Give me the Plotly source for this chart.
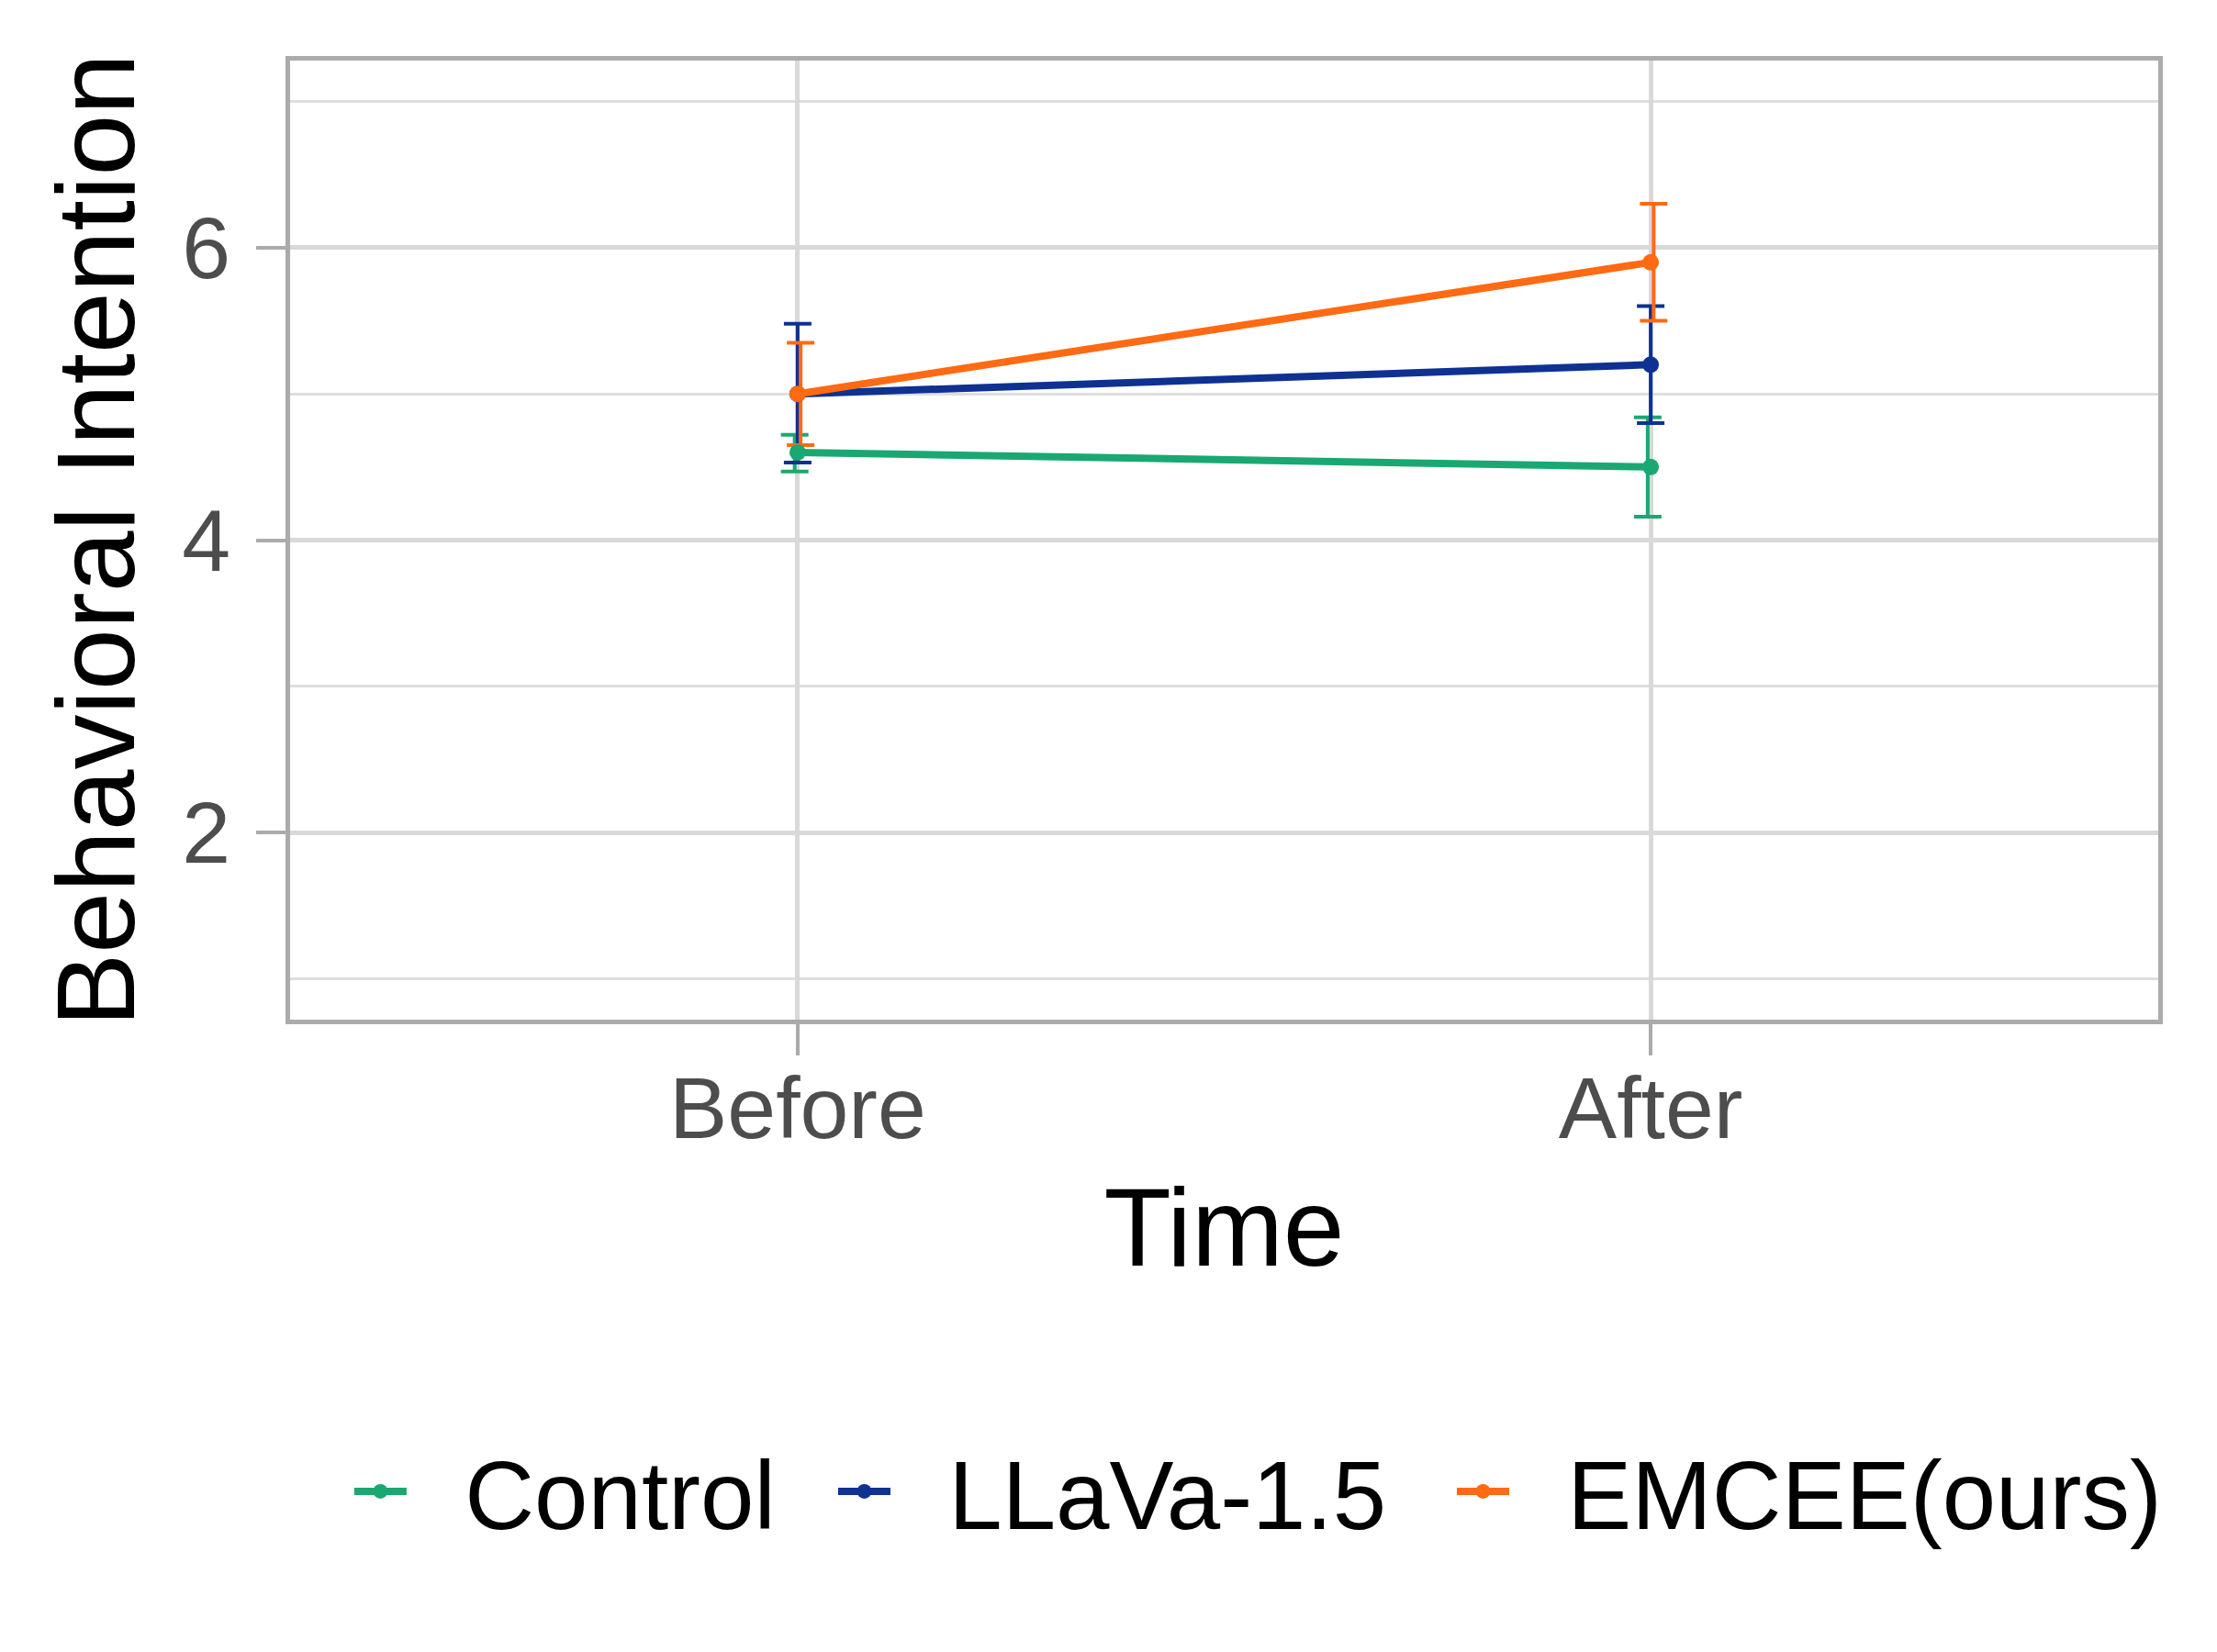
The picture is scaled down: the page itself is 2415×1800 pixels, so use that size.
import plotly.graph_objects as go

# ---- data ----
time_labels = ["Before", "After"]
time_pos = [1, 2]
groups = ["Control", "LLaVa-1.5", "EMCEE(ours)"]
control_mean = [4.60, 4.50]
control_lo = [4.47, 4.16]
control_hi = [4.72, 4.84]
llava_mean = [5.00, 5.20]
llava_lo = [4.53, 4.80]
llava_hi = [5.48, 5.60]
emcee_mean = [5.00, 5.90]
emcee_lo = [4.65, 5.50]
emcee_hi = [5.35, 6.30]
y_ticks = [2, 4, 6]

colors = ["#1AA872", "#0E3192", "#FF6A13"]
dodge = [-0.0035, 0.0, 0.0035]
legend_ids = ["legend", "legend2", "legend3"]
legend_x = [0.0319, 0.2909, 0.6221]

series = [
    (groups[0], control_mean, control_lo, control_hi),
    (groups[1], llava_mean, llava_lo, llava_hi),
    (groups[2], emcee_mean, emcee_lo, emcee_hi),
]

FONT = "Liberation Sans, Arial, sans-serif"
fig = go.Figure()

# error bars (slightly dodged)
for (name, m, lo, hi), c, d in zip(series, colors, dodge):
    fig.add_trace(go.Scatter(
        x=[p + d for p in time_pos], y=m, mode="markers",
        marker=dict(size=0.1, color=c, opacity=0),
        error_y=dict(type="data", symmetric=False,
                     array=[h - v for h, v in zip(hi, m)],
                     arrayminus=[v - l for v, l in zip(m, lo)],
                     color=c, thickness=4, width=15),
        showlegend=False, hoverinfo="skip"))

# lines + points
for (name, m, lo, hi), c, lg in zip(series, colors, legend_ids):
    fig.add_trace(go.Scatter(
        x=time_pos, y=m, mode="lines+markers", name="\u00a0\u00a0" + name,
        legend=lg,
        line=dict(color=c, width=8),
        marker=dict(color=c, size=18)))

leg_common = dict(orientation="h", xanchor="left", y=-0.492, yanchor="middle",
                  font=dict(size=105, family=FONT, color="black"),
                  itemwidth=57, bgcolor="rgba(0,0,0,0)")

fig.update_layout(
    width=2415, height=1800,
    paper_bgcolor="white", plot_bgcolor="white",
    margin=dict(l=308, r=72, t=58, b=697, autoexpand=False),
    font=dict(family=FONT, color="black"),
    showlegend=True,
    legend=dict(x=legend_x[0], **leg_common),
    legend2=dict(x=legend_x[1], **leg_common),
    legend3=dict(x=legend_x[2], **leg_common),
)

fig.update_xaxes(
    range=[0.405, 2.595], tickvals=time_pos, ticktext=time_labels,
    showgrid=True, gridcolor="#D9D9D9", gridwidth=4.5,
    zeroline=False, showline=True, linecolor="#ABABAB", linewidth=5, mirror=True,
    ticks="outside", ticklen=34, tickwidth=4, tickcolor="#ABABAB",
    tickfont=dict(size=95, color="#4D4D4D", family=FONT),
    ticklabelstandoff=-24,
    title=dict(text="Time", font=dict(size=120, color="black", family=FONT), standoff=37),
)
fig.update_yaxes(
    range=[0.72, 7.28], tickvals=y_ticks,
    showgrid=True, gridcolor="#D9D9D9", gridwidth=4.5,
    minor=dict(dtick=1, tick0=0, showgrid=True, gridcolor="#DEDEDE", gridwidth=2.5, ticks=""),
    zeroline=False, showline=True, linecolor="#ABABAB", linewidth=5, mirror=True,
    ticks="outside", ticklen=32, tickwidth=4, tickcolor="#ABABAB",
    tickfont=dict(size=95, color="#4D4D4D", family=FONT),
    ticklabelstandoff=9,
    title=dict(text="Behavioral Intention", font=dict(size=120, color="black", family=FONT), standoff=13),
)

fig.write_html("out.html")
